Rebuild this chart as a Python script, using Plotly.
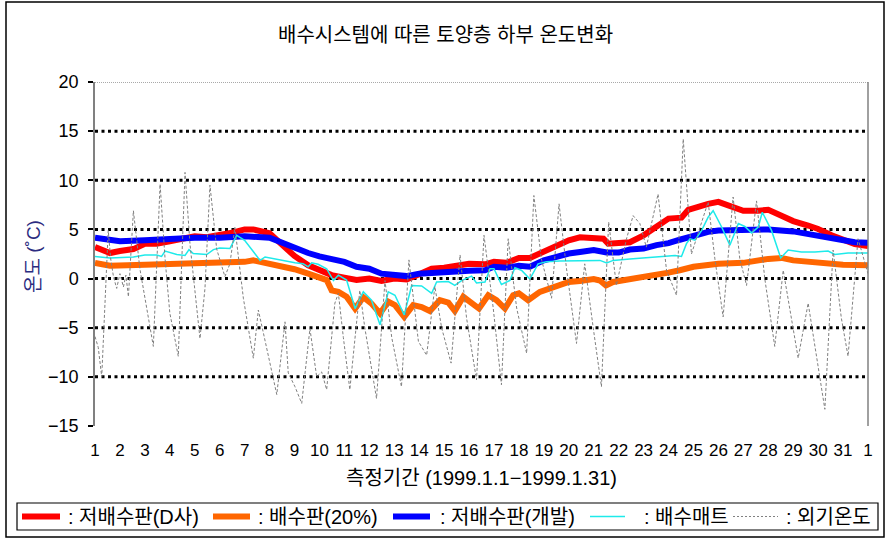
import plotly.graph_objects as go

# ---------------- data ----------------
tick_vals = list(range(1, 33))
tick_text = [str(d) for d in range(1, 32)] + ["1"]

names = [": 저배수판(D사)", ": 배수판(20%)", ": 저배수판(개발)", ": 배수매트", ": 외기온도"]

red_x = [1.0, 1.6, 2.0, 2.54, 3.0, 3.47, 4.0, 4.54, 5.0, 5.48, 6.0, 6.55, 7.0, 7.35, 8.0, 8.29, 8.62,
         9.0, 9.55, 10.0, 10.49, 11.0, 11.49, 12.0, 12.49, 13.0, 13.5, 14.0, 14.5, 15.0, 15.57, 16.0,
         16.64, 17.0, 17.5, 18.0, 18.44, 19.0, 19.51, 20.0, 20.45, 21.0, 21.39, 21.58, 22.0, 22.45,
         23.0, 23.52, 24.0, 24.26, 24.52, 24.79, 25.0, 25.59, 26.0, 26.39, 27.0, 27.6, 28.0, 28.53,
         29.0, 29.6, 30.0, 30.54, 31.0, 31.47, 32.0]
red_y = [3.2, 2.6, 2.8, 3.0, 3.55, 3.55, 3.8, 4.15, 4.3, 4.2, 4.4, 4.7, 5.0, 5.0, 4.6, 3.9, 3.1,
         2.3, 1.35, 0.85, 0.35, 0.1, -0.15, 0.0, -0.25, 0.0, -0.1, 0.45, 1.0, 1.1, 1.3, 1.5,
         1.45, 1.7, 1.6, 2.1, 2.1, 2.7, 3.3, 3.9, 4.2, 4.05, 4.05, 3.55, 3.6, 3.7,
         4.4, 5.25, 6.1, 6.15, 6.2, 7.0, 7.2, 7.6, 7.8, 7.45, 6.9, 6.9, 7.0, 6.4,
         5.85, 5.4, 5.05, 4.4, 3.95, 3.5, 3.3]

orange_x = [1.0, 1.6, 3.0, 4.0, 5.0, 6.0, 7.0, 7.35, 8.0, 8.62, 9.0, 9.55, 10.0, 10.29, 10.49, 10.76,
            11.09, 11.43, 11.76, 12.09, 12.43, 12.76, 13.03, 13.4, 13.76, 14.1, 14.43, 14.83, 15.17,
            15.43, 15.77, 16.1, 16.4, 16.77, 17.1, 17.44, 17.77, 18.0, 18.37, 18.84, 19.37, 20.0,
            20.45, 21.0, 21.25, 21.49, 21.78, 22.45, 23.0, 23.52, 24.0, 24.45, 25.0, 26.0, 27.0,
            28.0, 28.53, 29.0, 30.0, 31.0, 32.0]
orange_y = [1.6, 1.3, 1.4, 1.45, 1.5, 1.6, 1.7, 1.85, 1.5, 1.2, 0.95, 0.5, 0.15, -0.15, -1.2, -1.35,
            -1.85, -3.05, -1.9, -2.55, -3.55, -2.35, -2.7, -3.9, -2.7, -2.9, -3.3, -2.2, -2.45,
            -3.3, -1.85, -2.45, -3.05, -1.7, -2.2, -3.05, -1.7, -1.5, -2.2, -1.35, -0.85, -0.35,
            -0.25, -0.05, -0.2, -0.7, -0.35, -0.1, 0.15, 0.4, 0.6, 0.85, 1.2, 1.5, 1.6,
            2.0, 2.1, 1.85, 1.6, 1.4, 1.35]

blue_x = [1.0, 1.6, 2.0, 3.0, 4.0, 5.0, 6.0, 7.0, 8.0, 8.4, 8.62, 9.0, 9.55, 10.0, 10.49, 11.0, 11.49,
          12.0, 12.49, 13.0, 13.5, 14.0, 14.5, 15.0, 15.57, 16.0, 16.64, 17.0, 17.5, 18.0, 18.44,
          19.0, 19.51, 20.0, 20.45, 21.0, 21.52, 22.0, 22.45, 23.0, 23.52, 24.0, 24.45, 25.0, 25.59,
          26.0, 27.0, 28.0, 29.0, 30.0, 30.54, 31.0, 31.47, 32.0]
blue_y = [4.15, 3.9, 3.8, 3.9, 4.05, 4.15, 4.15, 4.3, 4.15, 3.75, 3.4, 3.05, 2.6, 2.25, 2.0, 1.7, 1.2,
          1.0, 0.5, 0.45, 0.25, 0.5, 0.6, 0.7, 0.7, 0.8, 0.85, 1.2, 1.1, 1.3, 1.2,
          1.85, 2.2, 2.55, 2.7, 2.9, 2.65, 2.65, 2.95, 3.05, 3.4, 3.6, 3.95, 4.4, 4.75,
          4.9, 4.9, 5.0, 4.8, 4.4, 4.2, 3.9, 3.7, 3.65]

cyan_x = [1.0, 1.6, 2.54, 3.0, 3.47, 3.67, 3.81, 4.28, 4.61, 4.77, 4.94, 5.48, 5.75, 6.0, 6.41, 6.68,
          7.0, 7.35, 7.62, 7.82, 8.29, 8.69, 9.02, 9.35, 9.55, 9.69, 9.95, 10.29, 10.56, 10.76,
          11.09, 11.43, 11.76, 12.09, 12.43, 12.76, 13.03, 13.4, 13.7, 14.1, 14.5, 14.7, 15.17,
          15.43, 15.7, 16.1, 16.3, 16.64, 16.84, 17.0, 17.3, 17.64, 17.84, 18.1, 18.44, 18.77,
          19.1, 19.64, 20.45, 21.25, 21.52, 21.78, 22.45, 23.0, 23.52, 24.0, 24.26, 24.52, 24.72,
          24.86, 25.06, 25.33, 25.59, 25.79, 26.13, 26.46, 26.8, 27.06, 27.33, 27.6, 27.76, 28.13,
          28.5, 28.8, 29.33, 29.87, 30.4, 30.67, 31.2, 32.0]
cyan_y = [2.25, 2.1, 2.2, 2.4, 2.4, 2.25, 2.8, 2.45, 2.35, 2.95, 2.55, 2.45, 2.95, 3.1, 3.05, 4.4,
          3.9, 2.7, 1.85, 2.2, 1.95, 1.7, 1.6, 1.5, 1.2, 1.6, 1.45, 1.0, -0.2, 0.35,
          -0.15, -3.05, -1.35, -2.2, -4.7, -1.35, -1.7, -3.7, -0.7, -0.75, -1.5, -0.35, -0.3,
          -0.7, -0.2, 0.25, -0.45, -0.35, 1.0, 1.0, -0.6, -0.2, 1.1, 0.85, -0.05, 1.5,
          1.7, 1.8, 1.85, 1.85, 1.6, 1.85, 2.0, 2.1, 2.2, 2.25, 2.35, 2.25, 3.55,
          4.05, 3.9, 4.9, 6.25, 6.9, 5.25, 3.4, 5.6, 5.3, 4.65, 5.25, 6.75, 4.9,
          2.1, 2.9, 2.7, 2.7, 2.8, 2.45, 2.6, 2.6]

air_x = [1.0, 1.13, 1.27, 1.4, 1.53, 1.63, 1.74, 1.87, 2.0, 2.14, 2.24, 2.34, 2.54, 2.8, 3.07, 3.34,
         3.61, 3.81, 4.0, 4.34, 4.61, 4.81, 5.21, 5.41, 5.61, 5.88, 6.21, 6.41, 6.61, 6.95, 7.35,
         7.55, 7.75, 8.29, 8.62, 8.75, 9.02, 9.29, 9.62, 9.89, 10.09, 10.29, 10.62, 10.76, 10.96,
         11.22, 11.62, 11.82, 12.29, 12.63, 12.9, 13.29, 13.59, 13.97, 14.3, 14.63, 14.9, 15.28,
         15.64, 15.9, 16.3, 16.6, 16.97, 17.3, 17.57, 17.91, 18.31, 18.6, 18.9, 19.31, 19.61,
         19.91, 20.31, 20.64, 20.98, 21.31, 21.6, 21.91, 22.31, 22.58, 22.85, 23.11, 23.58, 23.92,
         24.32, 24.59, 24.92, 25.26, 25.59, 25.86, 26.19, 26.59, 26.86, 27.13, 27.53, 27.86,
         28.26, 28.6, 28.93, 29.2, 29.6, 29.93, 30.27, 30.6, 30.93, 31.2, 31.6, 32.0]
air_y = [-5.9, -7.0, -10.0, -2.0, 4.9, 2.0, 0.2, -1.0, 0.5, -0.85, 0.35, -1.85, 6.9, 1.0, -3.0, -6.9,
         9.6, 2.0, -3.5, -7.9, 10.8, 3.5, -6.1, -1.0, 9.5, 3.0, 0.2, 1.5, 5.2, -2.0, -8.1,
         -3.2, -5.5, -11.8, -4.4, -9.6, -11.0, -12.7, -5.1, -10.0, -9.5, -11.3, -2.5, -1.5, -6.0,
         -11.3, -1.2, -5.0, -12.2, -0.2, -6.0, -11.0, 1.9, -6.4, -7.8, -0.8, -5.0, -8.6,
         2.4, -4.0, -10.3, 4.4, -3.0, -10.8, 4.05, -3.0, -7.6, 8.45, 2.0, -2.0, 7.6,
         1.0, -6.6, 1.5, -5.0, -11.0, 5.75, -0.7, 4.0, 6.4, 5.6, 3.2, 8.6, 0.85,
         -1.7, 14.2, 2.5, 5.2, 7.8, 2.0, -3.9, 8.3, 2.0, -0.7, 7.9, 0.0,
         -6.9, 0.85, -4.0, -8.1, -2.5, -8.0, -13.3, 2.9, -4.0, -7.9, 4.05, 0.5]

grid_levels = [15, 10, 5, 0, -5, -10]
y_ticks = [20, 15, 10, 5, 0, -5, -10, -15]

# ---------------- layout helpers (pixel -> paper) ----------------
L, R, T, B = 95, 868, 82, 426
def px(x):
    return (x - L) / (R - L)
def py(y):
    return (B - y) / (B - T)

FONT = "Liberation Sans, Arial, Noto Sans CJK KR, sans-serif"
fig = go.Figure()

styles = [
    dict(color="#FF0000", width=6),
    dict(color="#FF6600", width=6),
    dict(color="#0000FF", width=6),
    dict(color="#1EEAEA", width=1.5),
    dict(color="#808080", width=1, dash="3px,2px"),
]
all_x = [red_x, orange_x, blue_x, cyan_x, air_x]
all_y = [red_y, orange_y, blue_y, cyan_y, air_y]
for xs, ys, st, nm in zip(all_x, all_y, styles, names):
    fig.add_trace(go.Scatter(x=xs, y=ys, mode="lines", name=nm, line=st, showlegend=False))

shapes = []
for g in grid_levels:
    shapes.append(dict(type="line", xref="paper", yref="y", x0=0, x1=1, y0=g, y1=g,
                       line=dict(color="black", width=3, dash="3px,3.5px"), layer="below"))
shapes.append(dict(type="line", xref="paper", yref="y", x0=0, x1=1, y0=20, y1=20,
                   line=dict(color="#555555", width=1, dash="1px,1px"), layer="below"))
shapes.append(dict(type="line", xref="paper", yref="paper", x0=1, x1=1, y0=0, y1=1,
                   line=dict(color="#808080", width=1.5)))
# outer chart border
shapes.append(dict(type="rect", xref="paper", yref="paper",
                   x0=px(6), x1=px(884), y0=py(537), y1=py(2),
                   line=dict(color="black", width=1.5)))

# legend (drawn as a boxed row of key lines + labels)
shapes.append(dict(type="rect", xref="paper", yref="paper",
                   x0=px(17), x1=px(878), y0=py(530), y1=py(503),
                   line=dict(color="black", width=1.2), fillcolor="white"))
leg_y = 516.5
key_x = [(22, 60), (213, 250), (393, 430), (590, 625), (733, 778)]
text_x = [66, 256, 438, 642, 784]
annotations = []
for (k0, k1), tx, st, nm in zip(key_x, text_x, styles, names):
    st2 = dict(st)
    if st2.get("dash"):
        st2["dash"] = "2px,2px"
    shapes.append(dict(type="line", xref="paper", yref="paper", x0=px(k0), x1=px(k1),
                       y0=py(leg_y), y1=py(leg_y), line=st2))
    annotations.append(dict(text=nm, xref="paper", yref="paper", x=px(tx), y=py(leg_y),
                            showarrow=False, xanchor="left", yanchor="middle",
                            font=dict(family=FONT, size=20, color="black")))

annotations += [
    dict(text="배수시스템에 따른 토양층 하부 온도변화", xref="paper", yref="paper",
         x=px(445), y=py(35), showarrow=False,
         font=dict(family=FONT, size=20, color="black"), xanchor="center", yanchor="middle"),
    dict(text="측정기간 (1999.1.1−1999.1.31)", xref="paper", yref="paper",
         x=px(481), y=py(478), showarrow=False,
         font=dict(family=FONT, size=20, color="black"), xanchor="center", yanchor="middle"),
    dict(text="온도 (˚C)", xref="paper", yref="paper", textangle=-90,
         x=px(33), y=py(257), showarrow=False,
         font=dict(family=FONT, size=19, color="#2b2b80"), xanchor="center", yanchor="middle"),
]

fig.update_layout(
    width=890, height=542,
    margin=dict(l=L, r=890 - R, t=T, b=542 - B, autoexpand=False),
    paper_bgcolor="white", plot_bgcolor="white",
    font=dict(family=FONT, size=16, color="black"),
    showlegend=False,
    shapes=shapes, annotations=annotations,
)
fig.update_xaxes(range=[1, 32], tickvals=tick_vals, ticktext=tick_text, showgrid=False,
                 zeroline=False, showline=False, ticks="", tickfont=dict(size=17),
                 ticklabelstandoff=12)
fig.update_yaxes(range=[-15, 20], tickvals=y_ticks, showgrid=False, zeroline=False,
                 showline=True, linecolor="#808080", linewidth=1.5, ticks="outside",
                 ticklen=5, tickcolor="black", tickwidth=1.5, tickfont=dict(size=18),
                 ticklabelstandoff=6)

fig.write_html("out.html", config={"displayModeBar": False},
               post_script="document.body.style.margin='0';")
